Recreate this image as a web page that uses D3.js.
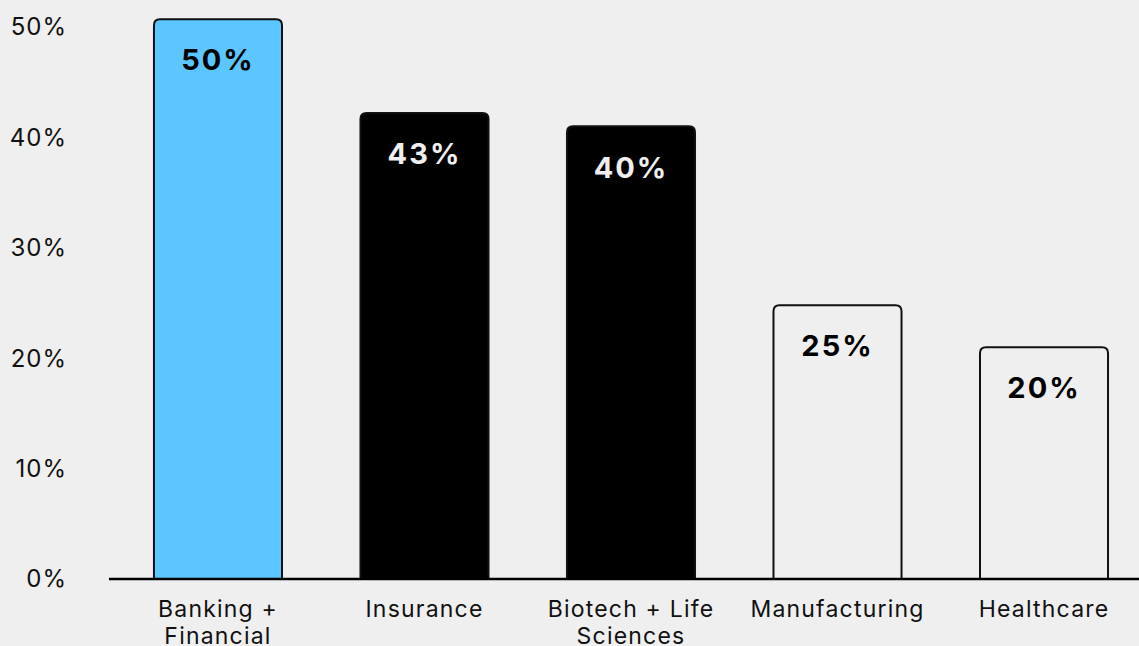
<!DOCTYPE html>
<html><head><meta charset="utf-8">
<script src="https://cdn.jsdelivr.net/npm/d3@7"></script>
<style>
html,body{margin:0;padding:0;background:#efefef;}
svg{display:block;font-family:Inter, "Noto Sans", sans-serif;}
</style></head>
<body>
<svg id="chart" width="1139" height="646"></svg>
<script>
const categories = [["Banking +","Financial"],["Insurance"],["Biotech + Life","Sciences"],["Manufacturing"],["Healthcare"]];
const values = [50.7, 42.2, 41.0, 24.8, 21.0];
const valueLabels = ["50%","43%","40%","25%","20%"];
const fills = ["#5bc6ff","#000000","#000000","#efefef","#efefef"];
const textColors = ["#000000","#efefef","#efefef","#000000","#000000"];
const yTicks = [0,10,20,30,40,50];

const svg = d3.select("#chart");
const keys = categories.map(c => c.join(" "));
const x = d3.scaleBand().domain(keys).range([75.5, 1186.5]).padding(0.38);
const y = d3.scaleLinear().domain([0, 50]).range([579, 27]);

// y tick labels
svg.append("g").selectAll("text").data(yTicks).join("text")
  .attr("x", 67).attr("y", d => y(d)).attr("dy", "0.35em")
  .attr("text-anchor", "end").attr("font-size", 24).attr("letter-spacing", 1).attr("fill", "#111")
  .text(d => d + "%");

function barPath(x0, y0, w, h, r) {
  return `M${x0},${y0+h}V${y0+r}Q${x0},${y0} ${x0+r},${y0}H${x0+w-r}Q${x0+w},${y0} ${x0+w},${y0+r}V${y0+h}`;
}

const bars = svg.append("g");
values.forEach((v, i) => {
  const bx = x(keys[i]), bw = x.bandwidth(), by = y(v), bh = y(0) - y(v);
  bars.append("path")
    .attr("d", barPath(bx, by, bw, bh, 6) + "Z")
    .attr("fill", fills[i]).attr("stroke", "#111").attr("stroke-width", 2);
  bars.append("text")
    .attr("x", bx + bw/2).attr("y", by + 41).attr("dy", "0.35em")
    .attr("text-anchor", "middle").attr("font-size", 29).attr("font-weight", 700)
    .attr("letter-spacing", 2)
    .attr("fill", textColors[i]).text(valueLabels[i]);
});

// baseline
svg.append("line").attr("x1", 109).attr("x2", 1139).attr("y1", y(0)).attr("y2", y(0))
  .attr("stroke", "#000").attr("stroke-width", 2.5);

// category labels
const cat = svg.append("g");
categories.forEach((lines, i) => {
  const cx = x(keys[i]) + x.bandwidth()/2;
  const t = cat.append("text").attr("x", cx).attr("y", 617)
    .attr("text-anchor", "middle").attr("font-size", 23).attr("letter-spacing", 1.2).attr("fill", "#111");
  lines.forEach((l, j) => t.append("tspan").attr("x", cx).attr("dy", j ? 27 : 0).text(l));
});
</script>
</body></html>
